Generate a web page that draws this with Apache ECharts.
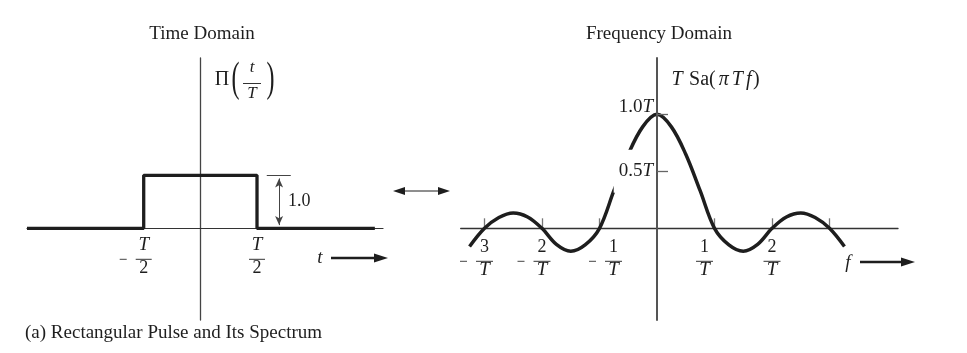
<!DOCTYPE html>
<html><head><meta charset="utf-8">
<script src="https://cdn.jsdelivr.net/npm/echarts@6/dist/echarts.min.js"></script>
<style>html,body{margin:0;padding:0;background:#fff}#c{width:967px;height:353px}</style>
</head><body><div id="c"></div>
<script>
// ---- data ----
const pulseT = [-1.53, -0.5, -0.5, 0.5, 0.5, 1.54];        // t / T
const pulseV = [0, 0, 1, 1, 0, 0];
const timeLabelValues = [-0.5, 0.5];                       // -T/2, T/2
const freqF = [-3.26,-3.0,-2.75,-2.5,-2.25,-2.0,-1.75,-1.5,-1.25,-1.0,-0.75,-0.5,-0.25,0,
               0.25,0.5,0.75,1.0,1.25,1.5,1.75,2.0,2.25,2.5,2.75,3.0,3.26];   // f * T
const spectrum = [-0.16,0,0.095,0.135,0.10,0,-0.14,-0.20,-0.145,0,0.33,0.65,0.89,1.0,
                  0.89,0.65,0.33,0,-0.145,-0.20,-0.14,0,0.10,0.135,0.095,0,-0.16];  // in units of T
const freqTickValues = [-3,-2,-1,1,2,3];
const freqLabelValues = [-3,-2,-1,1,2];
const ampTickValues = [0.5, 1.0];

const F = '"Liberation Serif", "Times New Roman", serif';
const INK = '#1e1e1e';

function zip(a,b){return a.map((v,i)=>[v,b[i]]);}

function fracRich(w){
  return {
    n:{fontFamily:F,fontSize:18,lineHeight:24,width:w,align:'center',color:INK},
    ni:{fontFamily:F,fontSize:19,fontStyle:'italic',lineHeight:24,width:w,align:'center',color:INK},
    d:{fontFamily:F,fontSize:18,lineHeight:14,width:w,align:'center',color:INK},
    di:{fontFamily:F,fontSize:19,fontStyle:'italic',lineHeight:14,width:w,align:'center',color:INK},
    bar:{width:w,height:1,lineHeight:4,backgroundColor:'#333'},
    mn:{width:7,height:1,lineHeight:4,backgroundColor:'#444'},
    g:{width:9,lineHeight:4},
    p:{width:16,lineHeight:4},
    s20:{width:20,lineHeight:4},
    s28:{width:28,lineHeight:4}
  };
}
function frac(num, numTag, den, denTag, neg, pre, post){
  const a = pre ? '{'+pre+'| }' : '', b = post ? '{'+post+'| }' : '';
  if (neg) {
    return a+'{p| }{'+numTag+'|'+num+'}{p| }'+b+'\n'+
           a+'{mn| }{g| }{bar| }{p| }'+b+'\n'+
           a+'{p| }{'+denTag+'|'+den+'}{p| }'+b;
  }
  return a+'{'+numTag+'|'+num+'}'+b+'\n'+a+'{bar| }'+b+'\n'+a+'{'+denTag+'|'+den+'}'+b;
}

const chart = echarts.init(document.getElementById('c'), null, {renderer:'canvas'});

const option = {
  animation:false,
  backgroundColor:'#fff',
  textStyle:{fontFamily:F,color:INK},
  title:[
    {text:'Time Domain',left:202,top:25,textAlign:'center',padding:0,
     textStyle:{fontFamily:F,fontSize:19,fontWeight:'normal',color:INK}},
    {text:'Frequency Domain',left:659,top:25,textAlign:'center',padding:0,
     textStyle:{fontFamily:F,fontSize:19,fontWeight:'normal',color:INK}},
    {text:'(a) Rectangular Pulse and Its Spectrum',left:25,top:324,padding:0,
     textStyle:{fontFamily:F,fontSize:19,fontWeight:'normal',color:INK}}
  ],
  grid:[
    {left:27,top:58,width:356,height:262,outerBoundsMode:'none',containLabel:false},
    {left:460.7,top:58,width:437.3,height:262,outerBoundsMode:'none',containLabel:false}
  ],
  xAxis:[
    {gridIndex:0,type:'value',min:-1.53,max:1.612,position:'bottom',offset:-91.7,
     axisLine:{show:true,onZero:false,lineStyle:{color:'#333',width:1.2}},
     axisTick:{show:false},splitLine:{show:false},
     axisLabel:{show:true,customValues:timeLabelValues,margin:5,
       formatter:function(v){return frac('T','ni','2','d',v<0);},
       rich:fracRich(16)}},
    {gridIndex:1,type:'value',min:-3.414,max:4.191,position:'bottom',offset:-91.7,
     axisLine:{show:true,onZero:false,lineStyle:{color:'#333',width:1.3}},
     axisTick:{show:true,inside:true,length:10,customValues:freqTickValues,
       lineStyle:{color:'#777',width:1.3}},
     splitLine:{show:false},
     axisLabel:{show:true,customValues:freqLabelValues,margin:7,
       formatter:function(v){
         const k=Math.abs(Math.round(v));
         if (v===-1) return frac(String(k),'n','T','di',true,'s28',null);
         if (v===1) return frac(String(k),'n','T','di',false,null,'s20');
         return frac(String(k),'n','T','di',v<0);
       },
       rich:fracRich(17)}}
  ],
  yAxis:[
    {gridIndex:0,type:'value',min:-1.73,max:3.213,position:'left',offset:-173.3,
     axisLine:{show:true,onZero:false,lineStyle:{color:'#444',width:1.3}},
     axisTick:{show:false},axisLabel:{show:false},splitLine:{show:false}},
    {gridIndex:1,type:'value',min:-0.804,max:1.494,z:3,position:'left',offset:-196.3,
     axisLine:{show:true,onZero:false,lineStyle:{color:'#555',width:2}},
     axisTick:{show:true,inside:true,length:11,customValues:ampTickValues,
       lineStyle:{color:'#666',width:1.3}},
     splitLine:{show:false},
     axisLabel:{show:true,customValues:ampTickValues,margin:3,
       formatter:function(v){
         return v===1 ? '{a|1.0}{ai|T}' : '{b|0.5}{bi|T}';
       },
       rich:{
         a:{fontFamily:F,fontSize:19,color:INK,padding:[0,0,14,0]},
         ai:{fontFamily:F,fontSize:19,fontStyle:'italic',color:INK,padding:[0,1,14,0]},
         b:{fontFamily:F,fontSize:19,color:INK,backgroundColor:'#fff',padding:[12,0,12,5]},
         bi:{fontFamily:F,fontSize:19,fontStyle:'italic',color:INK,backgroundColor:'#fff',padding:[12,1,12,0]}
       }}}
  ],
  series:[
    {type:'line',xAxisIndex:0,yAxisIndex:0,data:zip(pulseT,pulseV),symbol:'none',
     lineStyle:{color:INK,width:3.3},z:2,
     markLine:{silent:true,animation:false,symbol:['arrow','arrow'],symbolSize:[6,9],
       label:{show:false},lineStyle:{color:'#444',width:1,type:'solid'},
       data:[
         [{coord:[0.695,0.06]},{coord:[0.695,0.94]}],
         [{coord:[0.586,1],symbol:'none'},{coord:[0.798,1],symbol:'none'}]
       ]}},
    {type:'line',xAxisIndex:1,yAxisIndex:1,data:zip(freqF,spectrum),symbol:'none',
     smooth:0.35,lineStyle:{color:INK,width:3.5},z:2}
  ],
  graphic:[
    {type:'text',x:222,y:80,style:{text:'\u03A0',font:'20px '+F,fill:INK,align:'center',verticalAlign:'middle'}},
    {type:'text',x:235.5,y:80,scaleY:1.75,style:{text:'(',font:'24px '+F,fill:INK,align:'center',verticalAlign:'middle'}},
    {type:'text',x:252,y:68,style:{text:'t',font:'italic 17px '+F,fill:INK,align:'center',verticalAlign:'middle'}},
    {type:'rect',shape:{x:243,y:83,width:18,height:1},style:{fill:'#333'}},
    {type:'text',x:252,y:94,style:{text:'T',font:'italic 17px '+F,fill:INK,align:'center',verticalAlign:'middle'}},
    {type:'text',x:270.5,y:80,scaleY:1.75,style:{text:')',font:'24px '+F,fill:INK,align:'center',verticalAlign:'middle'}},
    {type:'text',x:670,y:80,style:{
      text:'{i|T}{r| Sa(}{i|\u03C0}{i|T}{i|f}{r|)}',align:'left',verticalAlign:'middle',
      rich:{
        i:{fontFamily:F,fontSize:20,fontStyle:'italic',fill:INK,padding:[0,1.5,0,1.5]},
        r:{fontFamily:F,fontSize:20,fill:INK,padding:[0,1.5,0,0]}
      }}},
    {type:'text',x:288,y:201,style:{text:'1.0',font:'18px '+F,fill:INK,align:'left',verticalAlign:'middle'}},
    {type:'text',x:320,y:258,style:{text:'t',font:'italic 19px '+F,fill:INK,align:'center',verticalAlign:'middle'}},
    {type:'line',shape:{x1:331,y1:258,x2:376,y2:258},style:{stroke:INK,lineWidth:2.3}},
    {type:'polygon',shape:{points:[[374,253.5],[388,258],[374,262.5]]},style:{fill:INK}},
    {type:'text',x:848,y:263,style:{text:'f',font:'italic 19px '+F,fill:INK,align:'center',verticalAlign:'middle'}},
    {type:'line',shape:{x1:860,y1:262,x2:903,y2:262},style:{stroke:INK,lineWidth:2.3}},
    {type:'polygon',shape:{points:[[901,257.5],[915,262],[901,266.5]]},style:{fill:INK}},
    {type:'line',shape:{x1:400,y1:191,x2:443,y2:191},style:{stroke:INK,lineWidth:1}},
    {type:'polygon',shape:{points:[[405,187],[393,191],[405,195]]},style:{fill:INK}},
    {type:'polygon',shape:{points:[[438,187],[450,191],[438,195]]},style:{fill:INK}}
  ]
};
chart.setOption(option);
</script></body></html>
